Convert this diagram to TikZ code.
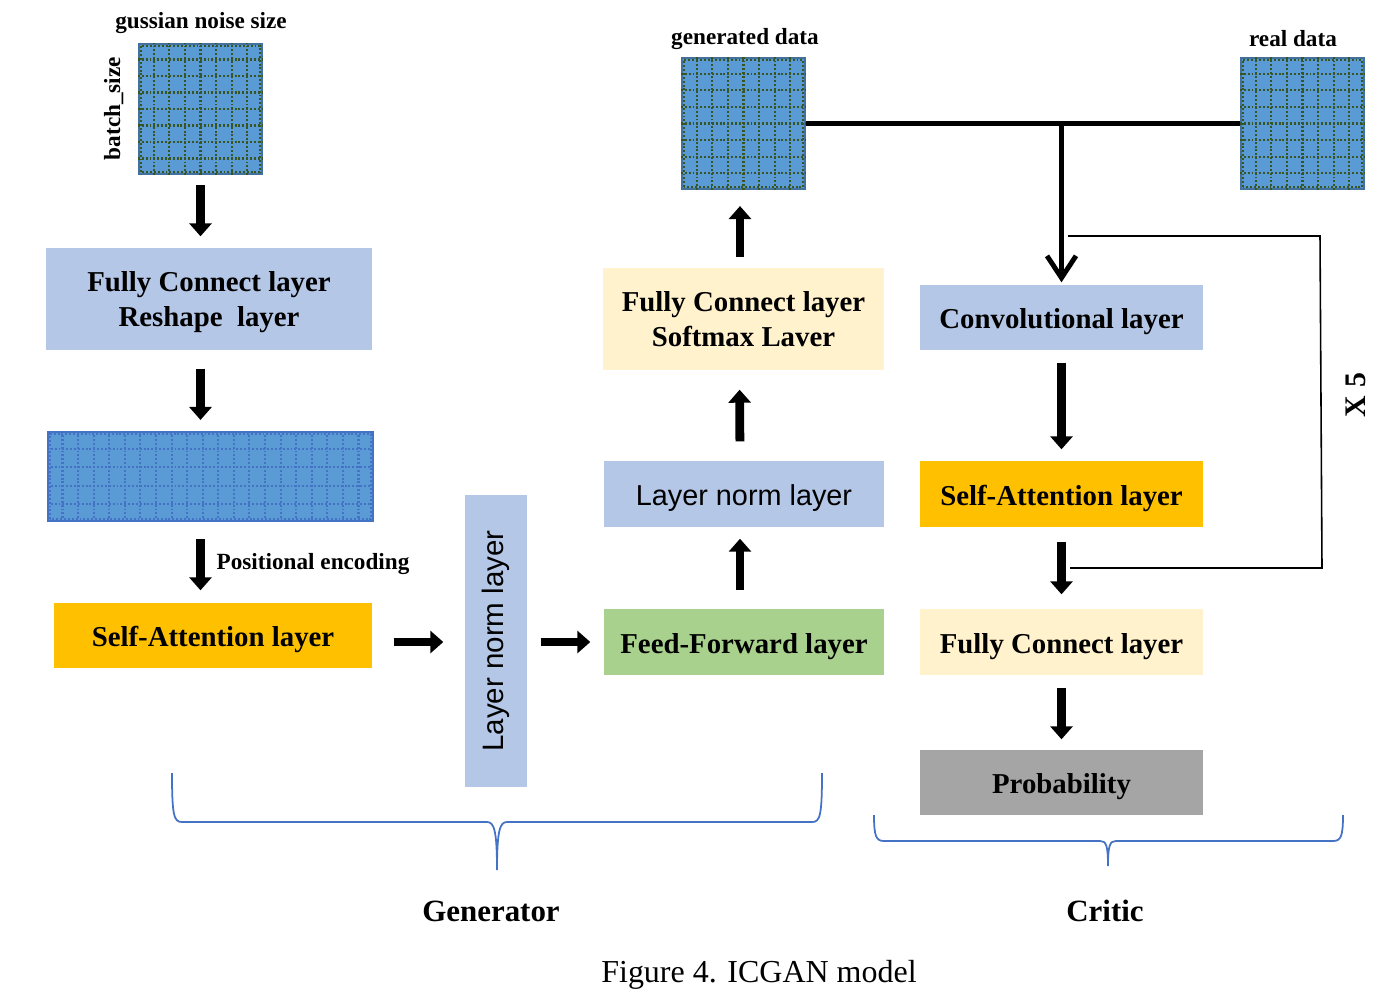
\documentclass[tikz,border=0pt]{standalone}
\usepackage{fontspec}
\setmainfont{Liberation Serif}
\setsansfont{Liberation Sans}
\usetikzlibrary{calc,arrows.meta}

\definecolor{gridfill}{HTML}{5B9BD5}
\definecolor{gridedge}{HTML}{41719C}
\definecolor{gridgreen}{HTML}{375623}
\definecolor{griddot}{HTML}{4472C4}
\definecolor{normblue}{HTML}{B4C7E7}
\definecolor{attnorange}{HTML}{FFC000}
\definecolor{fcyellow}{HTML}{FFF2CC}
\definecolor{ffgreen}{HTML}{A9D18E}
\definecolor{probgray}{HTML}{A5A5A5}
\definecolor{braceblue}{HTML}{4472C4}

\tikzset{
  layerbox/.style={inner sep=0pt, align=center, font=\fontsize{8.2}{10}\selectfont\bfseries},
  oneline/.style={layerbox, text height=0.63em, text depth=0pt},
  datagrid/.style={fill=gridfill, draw=gridedge, line width=0.6pt, inner sep=0pt},
  greendots/.style={gridgreen, line width=0.6pt, dash pattern=on 0.55pt off 0.55pt},
  bluedots/.style={griddot, line width=0.6pt, dash pattern=on 0.55pt off 0.55pt},
  note/.style={inner sep=0pt, font=\fontsize{6.6}{8}\selectfont\bfseries},
  flowarrow/.style={line width=2.5pt, -{Triangle[width=2.2mm,length=1.3mm]}},
  repeatline/.style={line width=0.45pt},
  brace/.style={draw=braceblue, line width=0.5pt}
}

% dotted cells over a data block: node, columns, rows, dot style
\newcommand\cellgrid[4]{%
  \pgfmathtruncatemacro\lastcol{#2-1}%
  \pgfmathtruncatemacro\lastrow{#3-1}%
  \draw[#4] ($(#1.south west)+(0.03,0.03)$) rectangle ($(#1.north east)-(0.03,0.03)$);
  \foreach \i in {1,...,\lastcol}
    \draw[#4] ($(#1.south west)!\i/#2!(#1.south east)$) -- ($(#1.north west)!\i/#2!(#1.north east)$);
  \foreach \j in {1,...,\lastrow}
    \draw[#4] ($(#1.south west)!\j/#3!(#1.north west)$) -- ($(#1.south east)!\j/#3!(#1.north east)$);
}

\begin{document}
\begin{tikzpicture}
	%%%%% START %%%%%
	\useasboundingbox (0,0) rectangle (13.97,-9.98);
	
	% generator
	\node[datagrid, minimum width=1.23cm, minimum height=1.30cm] (noise) at (2.005,-1.09) {};
	\cellgrid{noise}{8}{8}{greendots}
	\node[note, anchor=base] (noisesize) at (2.01,-0.28) {gussian noise size};
	\node[note, anchor=base, rotate=90] (batch) at (1.20,-1.085) {batch\_size};
	
	\node[layerbox, text depth=0pt, fill=normblue, minimum width=3.26cm, minimum height=1.02cm] (fcr) at (2.09,-2.99) {Fully Connect layer\\Reshape\ \ layer};
	
	\node[datagrid, draw=griddot, minimum width=3.25cm, minimum height=0.89cm] (wide) at (2.105,-4.765) {};
	\cellgrid{wide}{21}{5}{bluedots}
	
	\node[oneline, fill=attnorange, minimum width=3.18cm, minimum height=0.65cm] (sa) at (2.13,-6.355) {Self-Attention layer};
	\node[note, anchor=base west] (posenc) at (2.16,-5.69) {Positional encoding};
	
	\node[fill=normblue, inner sep=0pt, minimum width=0.62cm, minimum height=2.92cm,
	  label={[rotate=90, font=\fontsize{8.4}{10}\selectfont\sffamily]center:Layer norm layer}] (lnv) at (4.96,-6.41) {};
	
	\node[oneline, fill=ffgreen, minimum width=2.80cm, minimum height=0.66cm] (ff) at (7.44,-6.42) {Feed-Forward layer};
	\node[oneline, fill=normblue, font=\fontsize{8.2}{10}\selectfont\sffamily, minimum width=2.80cm, minimum height=0.66cm] (ln) at (7.44,-4.94) {Layer norm layer};
	\node[layerbox, fill=fcyellow, minimum width=2.81cm, minimum height=1.02cm] (fcs) at (7.435,-3.19) {Fully Connect layer\\Softmax Laver};
	
	\node[datagrid, minimum width=1.23cm, minimum height=1.31cm] (gen) at (7.435,-1.235) {};
	\cellgrid{gen}{8}{8}{greendots}
	\node[note, anchor=base] (genlabel) at (7.45,-0.44) {generated data};
	
	% critic
	\node[datagrid, minimum width=1.23cm, minimum height=1.31cm] (real) at (13.025,-1.235) {};
	\cellgrid{real}{8}{8}{greendots}
	\node[note, anchor=base] (reallabel) at (12.93,-0.46) {real data};
	
	\node[oneline, fill=normblue, minimum width=2.83cm, minimum height=0.65cm] (conv) at (10.615,-3.175) {Convolutional layer};
	\node[oneline, fill=attnorange, minimum width=2.83cm, minimum height=0.66cm] (csa) at (10.615,-4.94) {Self-Attention layer};
	\node[oneline, fill=fcyellow, minimum width=2.83cm, minimum height=0.66cm] (cfc) at (10.615,-6.42) {Fully Connect layer};
	\node[oneline, fill=probgray, minimum width=2.83cm, minimum height=0.65cm] (prob) at (10.615,-7.825) {Probability};
	
	% arrows
	\draw[flowarrow, shorten <=1mm, shorten >=1.1mm] (noise.south) -- (noise.south |- fcr.north);
	\draw[flowarrow, shorten <=1.8mm, shorten >=1.1mm] (noise.south |- fcr.south) -- (noise.south |- wide.north);
	\draw[flowarrow, shorten <=1.7mm, shorten >=1.2mm] (noise.south |- wide.south) -- (noise.south |- sa.north);
	\draw[flowarrow, shorten <=2.1mm, shorten >=2.1mm] (sa.east |- ff.west) -- (lnv.west |- ff.west);
	\draw[flowarrow, shorten <=1.3mm, shorten >=1.3mm] (lnv.east |- ff.west) -- (ff.west);
	\draw[flowarrow, shorten <=1.8mm, shorten >=1.1mm] ($(ff.north)+(-0.04,0)$) -- ($(ln.south)+(-0.04,0)$);
	\draw[flowarrow, shorten <=1.9mm, shorten >=1.9mm] ($(ln.north)+(-0.04,0)$) -- ($(fcs.south)+(-0.04,0)$);
	\draw[flowarrow, shorten <=1mm, shorten >=1.6mm] ($(fcs.north)+(-0.035,0)$) -- ($(gen.south)+(-0.035,0)$);
	
	\draw[line width=1.7pt] (gen.east) -- (real.west);
	\coordinate (split) at (gen.east -| conv.north);
	\draw[line width=1.4pt, -{Straight Barb[width=2.9mm,length=2.2mm,line width=1.4pt]}, shorten >=0.2mm] (split) -- (conv.north);
	
	\draw[flowarrow, shorten <=1.2mm, shorten >=1.1mm] (conv.south) -- (csa.north);
	\draw[flowarrow, shorten <=1.4mm, shorten >=1.4mm] (csa.south) -- (cfc.north);
	\draw[flowarrow, shorten <=1.2mm, shorten >=1mm] (cfc.south) -- (prob.north);
	
	% repeat block
	\coordinate (loopin) at (10.68,-2.36);
	\coordinate (loopout) at (10.70,-5.68);
	\draw[repeatline] (loopin) -- (13.20,-2.36) -- (13.22,-5.68) -- (loopout);
	\node[font=\fontsize{8.5}{10}\selectfont\bfseries, rotate=90, inner sep=0pt] (times) at (13.56,-3.95) {X 5};
	
	% braces
	\draw[brace] (1.72,-7.73) .. controls (1.72,-8.16) and (1.74,-8.22) .. (1.82,-8.22) -- (4.87,-8.22)
	  .. controls (4.94,-8.22) and (4.97,-8.30) .. (4.97,-8.70)
	  .. controls (4.97,-8.30) and (5.00,-8.22) .. (5.07,-8.22) -- (8.12,-8.22)
	  .. controls (8.20,-8.22) and (8.22,-8.16) .. (8.22,-7.73);
	\draw[brace] (8.74,-8.15) .. controls (8.74,-8.36) and (8.76,-8.41) .. (8.84,-8.41) -- (11.00,-8.41)
	  .. controls (11.06,-8.41) and (11.08,-8.45) .. (11.08,-8.66)
	  .. controls (11.08,-8.45) and (11.10,-8.41) .. (11.16,-8.41) -- (13.33,-8.41)
	  .. controls (13.41,-8.41) and (13.43,-8.36) .. (13.43,-8.15);
	\node[anchor=base, inner sep=0pt, font=\fontsize{8.8}{10}\selectfont\bfseries] (genname) at (4.91,-9.21) {Generator};
	\node[anchor=base, inner sep=0pt, font=\fontsize{8.8}{10}\selectfont\bfseries] (criticname) at (11.05,-9.21) {Critic};
	
	\node[anchor=base, inner sep=0pt, font=\fontsize{9.1}{11}\selectfont] (caption) at (7.59,-9.82) {Figure 4. ICGAN model};
	%%%%% END %%%%%
\end{tikzpicture}
\end{document}
